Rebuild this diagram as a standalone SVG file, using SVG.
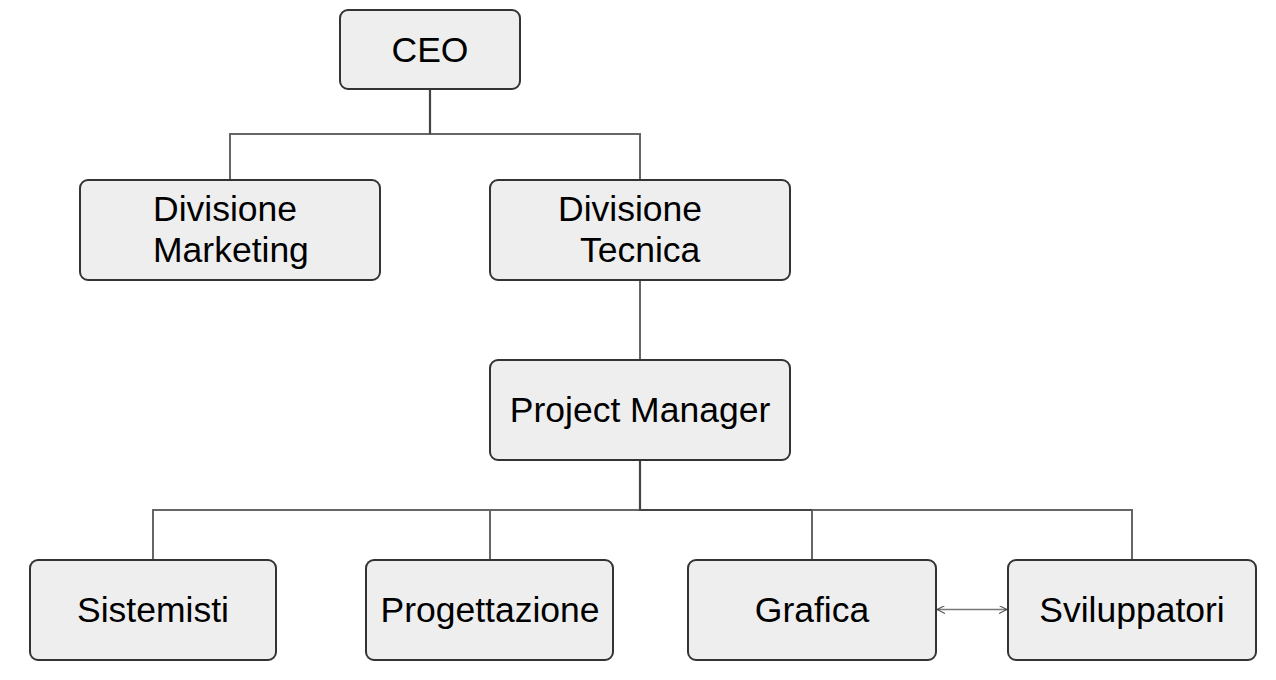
<svg xmlns="http://www.w3.org/2000/svg" width="1276" height="680" viewBox="0 0 1276 680">
<style>
.box{fill:#eeeeee;stroke:#333333;stroke-width:2}
.t{font-family:"Liberation Sans",Arial,sans-serif;font-size:35.5px;fill:#000}
.c{text-anchor:middle}
.ln{fill:none;stroke:#666666;stroke-width:2}
.tr{fill:none;stroke:#444444;stroke-width:2.2}
.ar{fill:none;stroke:#777777;stroke-width:1.3}
</style>
<defs>
<marker id="ah" viewBox="0 0 10 10" refX="10" refY="5" markerWidth="8" markerHeight="8" markerUnits="userSpaceOnUse" orient="auto-start-reverse">
<path d="M0,0 L10,5 L0,10" fill="none" stroke="#444" stroke-width="1.3"/>
</marker>
</defs>
<rect width="1276" height="680" fill="#ffffff"/>
<g id="connectors">
<path class="ln" d="M230,180 V134 H640 V180"/>
<path class="tr" d="M430,89 V134"/>
<path class="ln" d="M640,280 V360"/>
<path class="ln" d="M153,560 V510 H1132 V560 M490,510 V560 M812,510 V560"/>
<path class="tr" d="M640,460 V510 H812"/>
<line class="ar" x1="937" y1="609.5" x2="1007" y2="609.5" marker-start="url(#ah)" marker-end="url(#ah)"/>
</g>
<g id="ceo"><rect class="box" x="340" y="10" width="180" height="79" rx="8"/><text class="t c" x="430" y="62">CEO</text></g>
<g id="marketing"><rect class="box" x="80" y="180" width="300" height="100" rx="8"/><text class="t" x="153" y="221">Divisione</text><text class="t" x="153" y="262">Marketing</text></g>
<g id="tecnica"><rect class="box" x="490" y="180" width="300" height="100" rx="8"/><text class="t" x="558" y="221">Divisione</text><text class="t" x="580" y="262">Tecnica</text></g>
<g id="pm"><rect class="box" x="490" y="360" width="300" height="100" rx="8"/><text class="t c" x="640" y="422">Project Manager</text></g>
<g id="sistemisti"><rect class="box" x="30" y="560" width="246" height="100" rx="8"/><text class="t c" x="153" y="622">Sistemisti</text></g>
<g id="progettazione"><rect class="box" x="366" y="560" width="247" height="100" rx="8"/><text class="t c" x="490" y="622">Progettazione</text></g>
<g id="grafica"><rect class="box" x="688" y="560" width="248" height="100" rx="8"/><text class="t c" x="812" y="622">Grafica</text></g>
<g id="sviluppatori"><rect class="box" x="1008" y="560" width="248" height="100" rx="8"/><text class="t c" x="1132" y="622">Sviluppatori</text></g>
</svg>
